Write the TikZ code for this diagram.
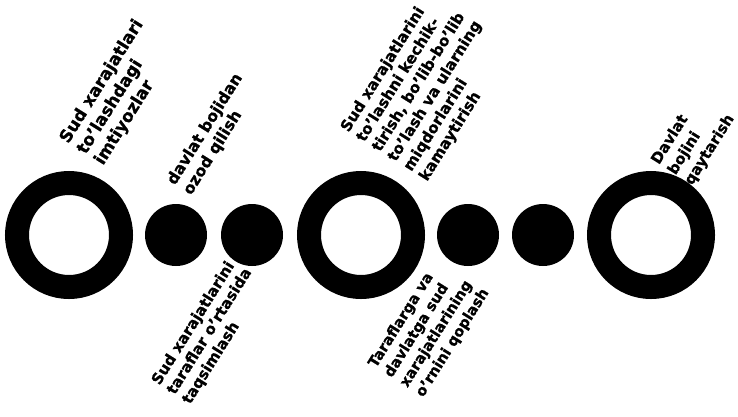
\documentclass[tikz,border=0pt]{standalone}
\usepackage{fontspec}
\setmainfont{DejaVu Sans}[BoldFeatures={FakeBold=0.8}]
\begin{document}
\begin{tikzpicture}[x=1pt,y=-1pt,
  ring/.style={draw=black, line width=24pt, circle, minimum size=104pt, inner sep=0pt},
  dot/.style={fill=black, circle, minimum size=62pt, inner sep=0pt},
  lbl/.style={rotate=58, anchor=base west, align=left, inner sep=0pt, font=\bfseries},
]
\useasboundingbox (0,0) rectangle (738,416);
\node[ring] (r1) at (69,235) {};
\node[dot] (d1) at (176,235) {};
\node[dot] (d2) at (252,235) {};
\node[ring] (r2) at (361,235) {};
\node[dot] (d3) at (468,235) {};
\node[dot] (d4) at (543,235) {};
\node[ring] (r3) at (651,235) {};

\node[lbl, font=\bfseries\fontsize{17}{20.5}\selectfont] (t1) at (103,166)
  {Sud xarajatlari\\to'lashdagi\\imtiyozlar};
\node[lbl, font=\bfseries\fontsize{15.8}{19}\selectfont] (t2) at (191,196)
  {davlat bojidan\\ozod qilish};
\node[lbl, font=\bfseries\fontsize{15.3}{18.5}\selectfont] (t3) at (427,182)
  {Sud xarajatlarini\\to'lashni kechik-\\tirish, bo'lib-bo'lib\\to'lash va ularning\\miqdorlarini\\kamaytirish};
\node[lbl, font=\bfseries\fontsize{15}{19.5}\selectfont] (t4) at (692,186)
  {Davlat\\bojini\\qaytarish};
\node[lbl, font=\bfseries\fontsize{15.1}{18}\selectfont] (t5) at (190,405)
  {Sud xarajatlarini\\taraflar o'rtasida\\taqsimlash};
\node[lbl, font=\bfseries\fontsize{14.7}{18.5}\selectfont] (t6) at (423,398)
  {Taraflarga va\\davlatga sud\\xarajatlarining\\o'rnini qoplash};
\end{tikzpicture}
\end{document}
